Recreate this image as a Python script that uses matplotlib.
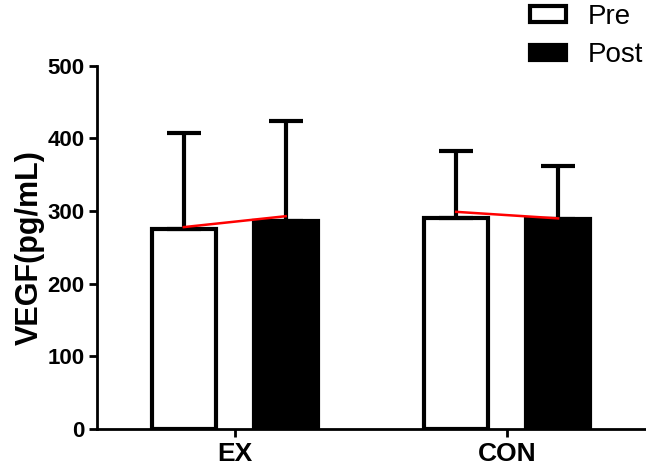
import matplotlib
matplotlib.use("Agg")
import matplotlib.pyplot as plt
import numpy as np
from matplotlib.patches import Patch

plt.rcParams['font.family'] = ['Liberation Sans', 'DejaVu Sans']

# values
groups = ['EX', 'CON']
pre_mean = [276, 290]
pre_sd = [132, 93]
post_mean = [286, 289]
post_sd = [138, 73]
# red connecting lines (pre -> post)
red_ex = [278, 293]
red_con = [299, 290]

x = np.arange(len(groups))
w = 0.235
off = 0.187

fig = plt.figure(figsize=(6.46, 4.70), dpi=100)
ax = fig.add_axes([0.150, 0.087, 0.848, 0.773])

ax.bar(x - off, pre_mean, w, color='white', edgecolor='black', linewidth=3, zorder=2)
ax.bar(x + off, post_mean, w, color='black', edgecolor='black', linewidth=3, zorder=2)
ax.errorbar(x - off, pre_mean, yerr=[[0, 0], pre_sd], fmt='none', ecolor='black',
            elinewidth=3, capsize=12, capthick=3, zorder=3)
ax.errorbar(x + off, post_mean, yerr=[[0, 0], post_sd], fmt='none', ecolor='black',
            elinewidth=3, capsize=12, capthick=3, zorder=3)

for i, red in enumerate([red_ex, red_con]):
    ax.plot([x[i] - off, x[i] + off], red, color='red', linewidth=1.8, zorder=4)

ax.set_xlim(-0.506, 1.505)
ax.set_ylim(0, 500)
ax.set_yticks([0, 100, 200, 300, 400, 500])
ax.set_xticks(x)
ax.set_xticklabels(groups, fontsize=19, fontweight='bold')
for lab in ax.get_yticklabels():
    lab.set_fontsize(16)
    lab.set_fontweight('bold')
ax.set_ylabel('VEGF(pg/mL)', fontsize=22, fontweight='bold', labelpad=2)

ax.spines['top'].set_visible(False)
ax.spines['right'].set_visible(False)
ax.spines['left'].set_linewidth(2)
ax.spines['bottom'].set_linewidth(2)
ax.tick_params(axis='both', width=2, length=6, pad=3)

handles = [Patch(facecolor='white', edgecolor='black', linewidth=3, label='Pre'),
           Patch(facecolor='black', edgecolor='black', linewidth=3, label='Post')]
fig.legend(handles=handles, loc='upper right', bbox_to_anchor=(1.035, 1.045),
           frameon=False, fontsize=20, handlelength=1.3, handleheight=0.5,
           handletextpad=0.8, labelspacing=0.45)

fig.savefig('out.png', dpi=100)
